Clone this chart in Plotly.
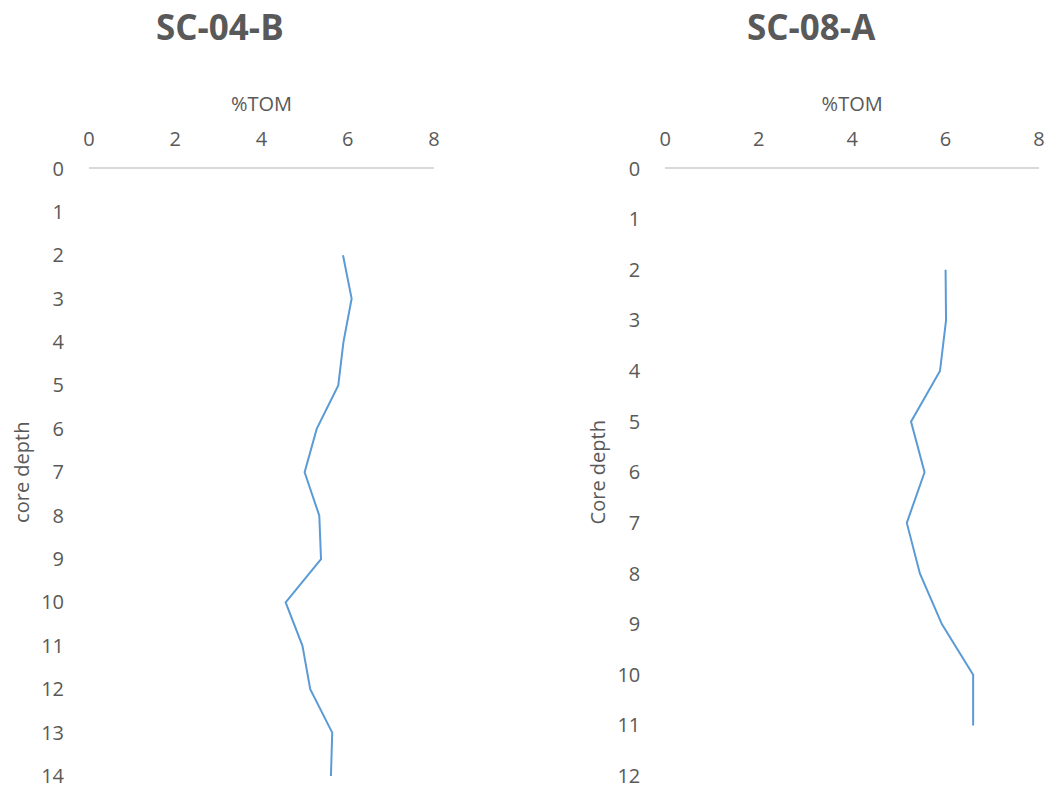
import plotly.graph_objects as go

# Core SC-04-B: depth (cm) vs total organic matter (%)
depth_04b = [2, 3, 4, 5, 6, 7, 8, 9, 10, 11, 12, 13, 14]
tom_04b = [5.89, 6.09, 5.90, 5.78, 5.28, 5.00, 5.34, 5.38, 4.56, 4.95, 5.13, 5.64, 5.61]

# Core SC-08-A
depth_08a = [2, 3, 4, 5, 6, 7, 8, 9, 10, 11]
tom_08a = [6.00, 6.01, 5.88, 5.26, 5.55, 5.17, 5.45, 5.92, 6.59, 6.59]

x_ticks = [0, 2, 4, 6, 8]
titles = ["SC-04-B", "SC-08-A"]
y_titles = ["core depth", "Core depth"]

FONT = "Open Sans, Liberation Sans, sans-serif"
GREY = "#595959"
LINE = "#5b9bd5"

W, H = 1051, 792
fig = go.Figure()

fig.add_trace(go.Scatter(x=tom_04b, y=depth_04b, mode="lines",
                         line=dict(color=LINE, width=2), xaxis="x", yaxis="y",
                         showlegend=False))
fig.add_trace(go.Scatter(x=tom_08a, y=depth_08a, mode="lines",
                         line=dict(color=LINE, width=2), xaxis="x2", yaxis="y2",
                         showlegend=False))

y_dom = [(H - 776) / H, (H - 168.5) / H]
dom_left = [89 / W, 434 / W]
dom_right = [665.3 / W, 1039 / W]

def xaxis(domain, anchor):
    return dict(domain=domain, anchor=anchor, side="top", range=[0, 8],
                tickvals=x_ticks, showgrid=False, zeroline=False, automargin=False,
                showline=True, linecolor="#d9d9d9", linewidth=2,
                ticks="outside", ticklen=13, tickcolor="rgba(0,0,0,0)",
                tickfont=dict(size=20, color=GREY, family=FONT),
                title=dict(text="%TOM", font=dict(size=20, color=GREY, family=FONT),
                           standoff=8))

def yaxis(anchor, ymax, title):
    return dict(domain=y_dom, anchor=anchor, range=[ymax, 0],
                tickvals=list(range(0, ymax + 1)), showgrid=False, zeroline=False,
                showline=False, ticks="outside", ticklen=20, automargin=False,
                tickcolor="rgba(0,0,0,0)",
                tickfont=dict(size=20, color=GREY, family=FONT),
                title=dict(text=title, font=dict(size=20, color=GREY, family=FONT),
                           standoff=6))

fig.update_layout(
    width=W, height=H,
    margin=dict(l=0, r=0, t=0, b=0),
    paper_bgcolor="white", plot_bgcolor="white",
    xaxis=xaxis(dom_left, "y"),
    yaxis=yaxis("x", 14, y_titles[0]),
    xaxis2=xaxis(dom_right, "y2"),
    yaxis2=yaxis("x2", 12, y_titles[1]),
    annotations=[
        dict(text=f"<b>{titles[0]}</b>", x=220 / W, y=1 - 26 / H, xref="paper",
             yref="paper", showarrow=False, xanchor="center", yanchor="middle",
             font=dict(size=35, color=GREY, family=FONT)),
        dict(text=f"<b>{titles[1]}</b>", x=811 / W, y=1 - 26 / H, xref="paper",
             yref="paper", showarrow=False, xanchor="center", yanchor="middle",
             font=dict(size=35, color=GREY, family=FONT)),
    ],
)

fig.write_html("out.html")
